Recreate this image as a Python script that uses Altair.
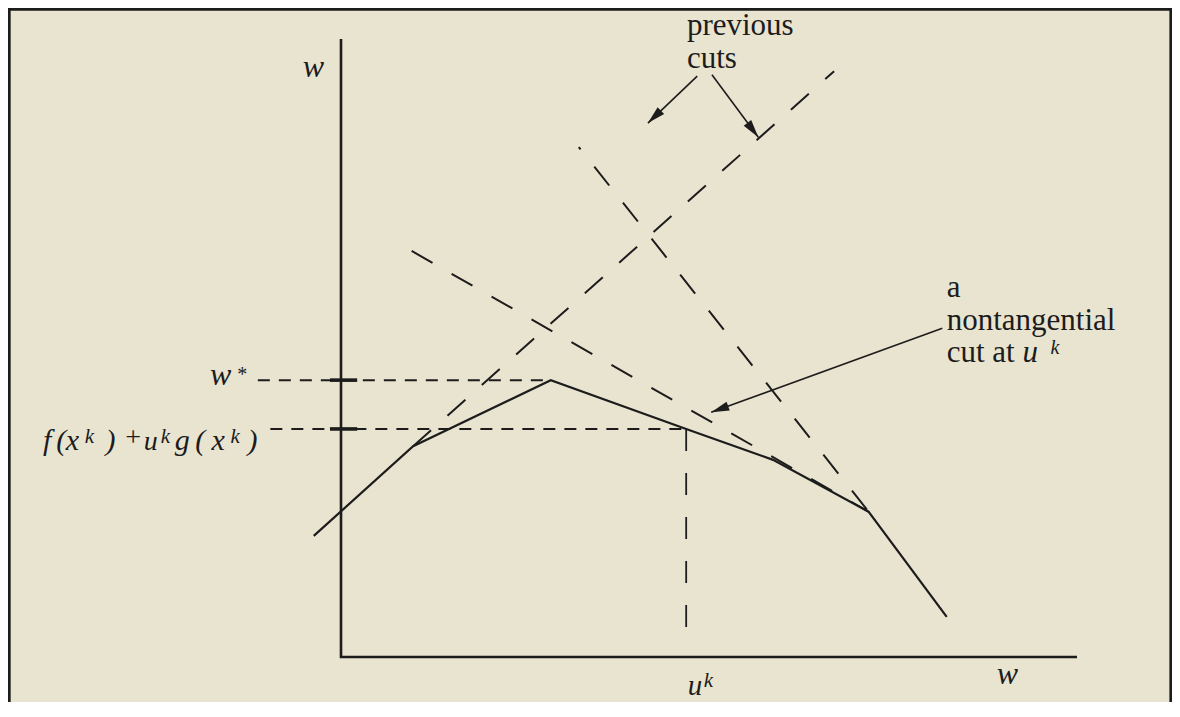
import altair as alt
import pandas as pd

# ---- diagram data (units: x axis 0..10, y axis 0..10) ----
curve_x = [-0.37, 0.98, 2.85, 4.69, 5.87, 7.17, 8.23]
curve_y = [1.96, 3.41, 4.48, 3.69, 3.19, 2.35, 0.65]

cut_prev1_x = [0.98, 6.70]
cut_prev1_y = [3.41, 9.48]
cut_nontan_x = [0.96, 7.17]
cut_nontan_y = [6.57, 2.35]
cut_prev2_x = [3.23, 7.17]
cut_prev2_y = [8.25, 2.35]

wstar_x = [-1.13, 2.85]
wstar_y = [4.48, 4.48]
fval_x = [-0.96, 4.69]
fval_y = [3.69, 3.69]
uk_x = [4.69, 4.69]
uk_y = [3.69, 0.15]
tick_x = [-0.15, 0.22]
tick_levels = [4.48, 3.69]

axes_x = [0, 0, 10]
axes_y = [10, 0, 0]

arrow_from_x = [4.84, 5.04, 8.17]
arrow_from_y = [9.40, 9.42, 5.32]
arrow_to_x = [4.17, 5.67, 5.03]
arrow_to_y = [8.64, 8.41, 3.96]
arrow_angle = [226, 143, 250]

roman_text = ["previous", "cuts", "a", "nontangential", "cut at", "*", "+"]
roman_x = [4.70, 4.70, 8.23, 8.23, 8.23, -1.41, -2.93]
roman_y = [10.06, 9.53, 5.83, 5.29, 4.77, 4.47, 3.41]
roman_size = [31, 31, 31, 31, 31, 20, 28]

italic_text = ["w", "w", "u", "k", "w", "u", "k",
               "f", "(", "x", "k", ")", "u", "k", "g", "(", "x", "k", ")"]
italic_x = [-0.52, 8.91, 4.71, 4.93, -1.78, 9.26, 9.64,
            -4.05, -3.87, -3.74, -3.48, -3.20, -2.68, -2.45, -2.26, -1.98, -1.76, -1.50, -1.27]
italic_y = [9.39, -0.44, -0.61, -0.48, 4.40, 4.77, 4.91,
            3.35, 3.35, 3.35, 3.46, 3.35, 3.35, 3.46, 3.35, 3.35, 3.35, 3.46, 3.35]
italic_size = [32, 32, 29, 21, 32, 31, 20,
               30, 30, 30, 21, 30, 28, 21, 30, 30, 30, 21, 30]

# frame / view extents
X_MIN, X_MAX = -4.5245, 11.2908
Y_MIN, Y_MAX = -0.7282, 10.5016
frame_x = [-4.51, -4.51, 11.277, 11.277]
frame_y = [Y_MIN, 10.485, 10.485, Y_MIN]

W, H = 1164, 694
INK = "#1c1c1c"
BG = "#e9e4d0"

xs = alt.Scale(domain=[X_MIN, X_MAX], nice=False, zero=False)
ys = alt.Scale(domain=[Y_MIN, Y_MAX], nice=False, zero=False)


def poly(name, xv, yv):
    return pd.DataFrame({"id": name, "ord": range(len(xv)), "x": xv, "y": yv})


def line_layer(df, width, dash=None, offset=0):
    kw = dict(color=INK, strokeWidth=width, clip=False)
    if dash:
        kw["strokeDash"] = dash
        kw["strokeDashOffset"] = offset
    return alt.Chart(df).mark_line(**kw).encode(
        x=alt.X("x:Q", scale=xs, axis=None),
        y=alt.Y("y:Q", scale=ys, axis=None),
        detail="id:N",
        order="ord:Q",
    )


frame_df = poly("frame", frame_x, frame_y)
axes_df = poly("axes", axes_x, axes_y)
curve_df = poly("curve", curve_x, curve_y)
cuts_df = pd.concat([poly("c1", cut_prev1_x, cut_prev1_y),
                     poly("c2", cut_nontan_x, cut_nontan_y)])
cut3_df = poly("c3", cut_prev2_x, cut_prev2_y)
h_df = pd.concat([poly("wstar", wstar_x, wstar_y), poly("fval", fval_x, fval_y)])
v_df = poly("uk", uk_x, uk_y)
ticks_df = pd.concat([poly(f"t{i}", tick_x, [lv, lv]) for i, lv in enumerate(tick_levels)])
arrows_df = pd.concat([poly(f"a{i}", [arrow_from_x[i], arrow_to_x[i]],
                            [arrow_from_y[i], arrow_to_y[i]]) for i in range(3)])
heads_df = pd.DataFrame({"x": arrow_to_x, "y": arrow_to_y, "angle": arrow_angle})

heads = alt.Chart(heads_df).mark_point(
    shape="M0,0 L-0.26,1 L0.26,1 Z", filled=True, color=INK, opacity=1, size=1300
).encode(
    x=alt.X("x:Q", scale=xs, axis=None),
    y=alt.Y("y:Q", scale=ys, axis=None),
    angle=alt.Angle("angle:Q", scale=None),
)

roman_df = pd.DataFrame({"t": roman_text, "x": roman_x, "y": roman_y, "s": roman_size})
italic_df = pd.DataFrame({"t": italic_text, "x": italic_x, "y": italic_y, "s": italic_size})


def text_layer(df, style):
    return alt.Chart(df).mark_text(
        font="Liberation Serif", fontStyle=style, align="left",
        baseline="alphabetic", color=INK, clip=False
    ).encode(
        x=alt.X("x:Q", scale=xs, axis=None),
        y=alt.Y("y:Q", scale=ys, axis=None),
        text="t:N",
        size=alt.Size("s:Q", scale=None, legend=None),
    )


chart = alt.layer(
    line_layer(frame_df, 3.2),
    line_layer(h_df, 2.0, [12, 9]),
    line_layer(v_df, 1.8, [22, 22]),
    line_layer(cuts_df, 2.0, [24, 22]),
    line_layer(cut3_df, 2.0, [24, 22], 21),
    line_layer(curve_df, 2.2),
    line_layer(axes_df, 2.6),
    line_layer(ticks_df, 3.6),
    line_layer(arrows_df, 1.6),
    heads,
    text_layer(roman_df, "normal"),
    text_layer(italic_df, "italic"),
).properties(
    width=W, height=H, padding=0, autosize=alt.AutoSizeParams(type="none"),
    background=BG,
).configure_view(stroke=None)

chart.save("out.html", embed_options={"renderer": "svg", "actions": False})
